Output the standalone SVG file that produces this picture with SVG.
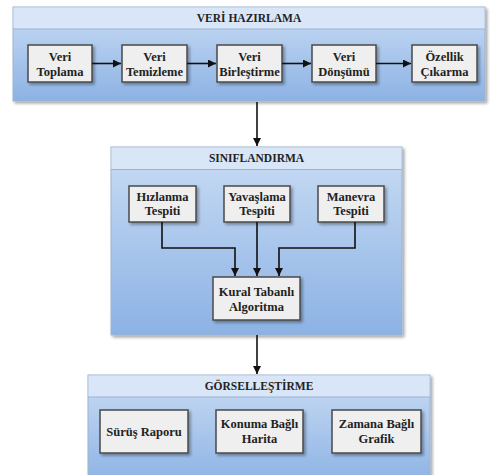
<svg xmlns="http://www.w3.org/2000/svg" width="495" height="475" viewBox="0 0 495 475">
<defs>
<linearGradient id="body" x1="0" y1="0" x2="0" y2="1">
<stop offset="0" stop-color="#c9dcf4"/>
<stop offset="1" stop-color="#8cb2e4"/>
</linearGradient>
<filter id="sh" x="-10%" y="-10%" width="130%" height="130%">
<feGaussianBlur in="SourceAlpha" stdDeviation="1.5"/>
<feOffset dx="1.5" dy="1.5"/>
<feComponentTransfer><feFuncA type="linear" slope="0.35"/></feComponentTransfer>
<feMerge><feMergeNode/><feMergeNode in="SourceGraphic"/></feMerge>
</filter>
<marker id="ah" viewBox="0 0 10 10" refX="10" refY="5" markerWidth="8" markerHeight="8" orient="auto" markerUnits="userSpaceOnUse">
<path d="M0,0 L10,5 L0,10 z" fill="#111"/>
</marker>
</defs>
<style>
.cont{fill:url(#body);stroke:#9db3cf;stroke-width:1}
.head{fill:#d8e6f8}
.hline{stroke:#9db3cf;stroke-width:1}
.box{fill:#efefef;stroke:#4a4a4a;stroke-width:1.5}
.t,.h{font-weight:bold;fill:#222;text-anchor:middle}
.t{font-size:12.5px}
.h{font-size:11.5px}
.c{fill:none;stroke:#111;stroke-width:1.6;marker-end:url(#ah)}
</style>
<rect width="495" height="475" fill="#fff"/>
<g font-family="Liberation Serif, DejaVu Serif, serif">
<g id="veri-hazirlama">
<rect class="cont" x="13" y="7" width="472" height="94" filter="url(#sh)"/>
<rect class="head" x="13.5" y="7.5" width="471" height="21.5"/>
<line class="hline" x1="13" y1="29" x2="485" y2="29"/>
<text class="h" x="249" y="22">VERİ HAZIRLAMA</text>
</g>
<g id="n-veri-toplama"><rect class="box" x="28" y="45" width="64" height="37" filter="url(#sh)"/><text class="t" x="60" y="61">Veri</text><text class="t" x="60" y="76">Toplama</text></g>
<g id="n-veri-temizleme"><rect class="box" x="122" y="45" width="65" height="37" filter="url(#sh)"/><text class="t" x="154.5" y="61">Veri</text><text class="t" x="154.5" y="76">Temizleme</text></g>
<g id="n-veri-birlestirme"><rect class="box" x="217" y="45" width="65" height="37" filter="url(#sh)"/><text class="t" x="249.5" y="61">Veri</text><text class="t" x="249.5" y="76">Birleştirme</text></g>
<g id="n-veri-donusumu"><rect class="box" x="312" y="45" width="64" height="37" filter="url(#sh)"/><text class="t" x="344" y="61">Veri</text><text class="t" x="344" y="76">Dönşümü</text></g>
<g id="n-ozellik-cikarma"><rect class="box" x="412" y="45" width="65" height="37" filter="url(#sh)"/><text class="t" x="444.5" y="61">Özellik</text><text class="t" x="444.5" y="76">Çıkarma</text></g>

<g id="siniflandirma">
<rect class="cont" x="111" y="147" width="291" height="188" filter="url(#sh)"/>
<rect class="head" x="111.5" y="147.5" width="290" height="22"/>
<line class="hline" x1="111" y1="169.5" x2="402" y2="169.5"/>
<text class="h" x="256.5" y="162">SINIFLANDIRMA</text>
</g>
<g id="n-hizlanma"><rect class="box" x="129" y="186" width="67" height="36" filter="url(#sh)"/><text class="t" x="162.5" y="201">Hızlanma</text><text class="t" x="162.5" y="215">Tespiti</text></g>
<g id="n-yavaslama"><rect class="box" x="224" y="186" width="66" height="36" filter="url(#sh)"/><text class="t" x="257" y="201">Yavaşlama</text><text class="t" x="257" y="215">Tespiti</text></g>
<g id="n-manevra"><rect class="box" x="318" y="186" width="66" height="36" filter="url(#sh)"/><text class="t" x="351" y="201">Manevra</text><text class="t" x="351" y="215">Tespiti</text></g>
<g id="n-kural"><rect class="box" x="213" y="277" width="87" height="43" filter="url(#sh)"/><text class="t" x="256.5" y="296">Kural Tabanlı</text><text class="t" x="256.5" y="311">Algoritma</text></g>

<g id="gorsellestirme">
<rect class="cont" x="88" y="375" width="342" height="110" filter="url(#sh)"/>
<rect class="head" x="88.5" y="375.5" width="341" height="21.5"/>
<line class="hline" x1="88" y1="397" x2="430" y2="397"/>
<text class="h" x="259" y="390">GÖRSELLEŞTİRME</text>
</g>
<g id="n-surus-raporu"><rect class="box" x="100" y="410" width="88" height="43" filter="url(#sh)"/><text class="t" x="144" y="436">Sürüş Raporu</text></g>
<g id="n-konuma-bagli"><rect class="box" x="216" y="410" width="87" height="43" filter="url(#sh)"/><text class="t" x="259.5" y="428">Konuma Bağlı</text><text class="t" x="259.5" y="443">Harita</text></g>
<g id="n-zamana-bagli"><rect class="box" x="332" y="410" width="89" height="43" filter="url(#sh)"/><text class="t" x="376.5" y="428">Zamana Bağlı</text><text class="t" x="376.5" y="443">Grafik</text></g>
</g>
<g id="connectors">
<path class="c" d="M92,63.5 H121"/>
<path class="c" d="M187,63.5 H216"/>
<path class="c" d="M282,63.5 H311"/>
<path class="c" d="M376,63.5 H411"/>
<path class="c" d="M257,102 V146"/>
<path class="c" d="M162,222 V248 H235 V276"/>
<path class="c" d="M257,222 V276"/>
<path class="c" d="M355,222 V248 H279 V276"/>
<path class="c" d="M257,335 V374"/>
</g>
</svg>
